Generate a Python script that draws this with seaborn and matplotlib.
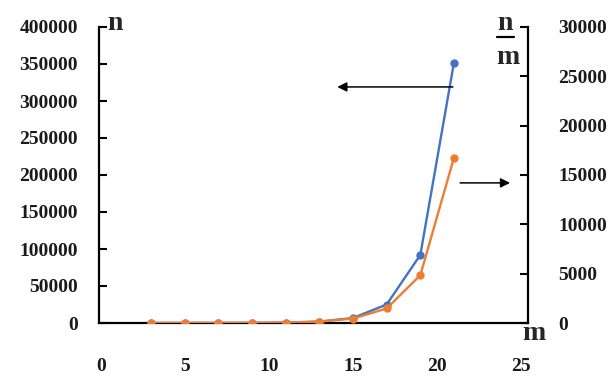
import matplotlib
matplotlib.use("Agg")
import matplotlib.pyplot as plt
from matplotlib.lines import Line2D
import seaborn as sns
import pandas as pd

m_values = [3, 5, 7, 9, 11, 13, 15, 17, 19, 21]
n_values = [3, 10, 36, 135, 500, 1850, 6800, 25000, 92000, 352000]
ratio_values = [n / m for n, m in zip(n_values, m_values)]
left_ticks = [0, 50000, 100000, 150000, 200000, 250000, 300000, 350000, 400000]
right_ticks = [0, 5000, 10000, 15000, 20000, 25000, 30000]
x_ticks = [0, 5, 10, 15, 20, 25]

df = pd.DataFrame({"m": m_values, "n": n_values, "nm": ratio_values})

sns.set_theme(style="white")
plt.rcParams["font.family"] = ["Liberation Serif", "DejaVu Serif"]
plt.rcParams["font.weight"] = "bold"

BLUE = "#4472C4"
ORANGE = "#ED7D31"

fig = plt.figure(figsize=(6.14, 3.76), dpi=100)
ax = fig.add_axes([99 / 614, 1 - 323 / 376, (528 - 99) / 614, (323 - 27) / 376])
ax2 = ax.twinx()

sns.lineplot(data=df, x="m", y="n", ax=ax, color=BLUE, marker="o", markersize=6,
             markeredgewidth=0, linewidth=1.7, zorder=3)
sns.lineplot(data=df, x="m", y="nm", ax=ax2, color=ORANGE, marker="o", markersize=6,
             markeredgewidth=0, linewidth=1.7, zorder=3)

ax.set_xlim(-0.1, 25.4)
ax.set_ylim(0, 400000)
ax2.set_ylim(0, 30000)
ax.set_xticks(x_ticks)
ax.set_yticks(left_ticks)
ax2.set_yticks(right_ticks)
ax.set_xlabel("")
ax.set_ylabel("")
ax2.set_ylabel("")

for a in (ax, ax2):
    for s in a.spines.values():
        s.set_visible(False)
ax.spines["left"].set_visible(True)
ax.spines["bottom"].set_visible(True)
ax2.spines["right"].set_visible(True)
for s in (ax.spines["left"], ax.spines["bottom"], ax2.spines["right"]):
    s.set_color("black")
    s.set_linewidth(1.6)

ax.tick_params(axis="y", direction="in", length=6, width=1.5, color="black", pad=15, left=True)
ax.tick_params(axis="x", length=0, pad=25)
ax2.tick_params(axis="y", direction="in", length=6, width=1.5, color="black", pad=22, right=True)
for lbl in ax.get_yticklabels() + ax.get_xticklabels() + ax2.get_yticklabels():
    lbl.set_fontsize(14)
    lbl.set_fontweight("bold")
    lbl.set_color("#1a1a1a")

# arrows
ax.annotate("", xy=(13.9, 319000), xytext=(21.1, 319000),
            arrowprops=dict(arrowstyle="-|>", color="black", lw=1.1, mutation_scale=14))
ax2.annotate("", xy=(24.5, 14200), xytext=(21.2, 14200),
             arrowprops=dict(arrowstyle="-|>", color="black", lw=1.1, mutation_scale=14))

# axis symbols
fig.text(115 / 614, 1 - 24 / 376, "n", ha="center", va="center", fontsize=20, fontweight="bold")
fig.text(505 / 614, 1 - 23 / 376, "n", ha="center", va="center", fontsize=20, fontweight="bold")
fig.add_artist(Line2D([497 / 614, 514 / 614], [1 - 37 / 376, 1 - 37 / 376], color="black", lw=1.6))
fig.text(508 / 614, 1 - 57 / 376, "m", ha="center", va="center", fontsize=20, fontweight="bold")
fig.text(534 / 614, 1 - 333 / 376, "m", ha="center", va="center", fontsize=20, fontweight="bold")

fig.savefig("out.png", dpi=100)
